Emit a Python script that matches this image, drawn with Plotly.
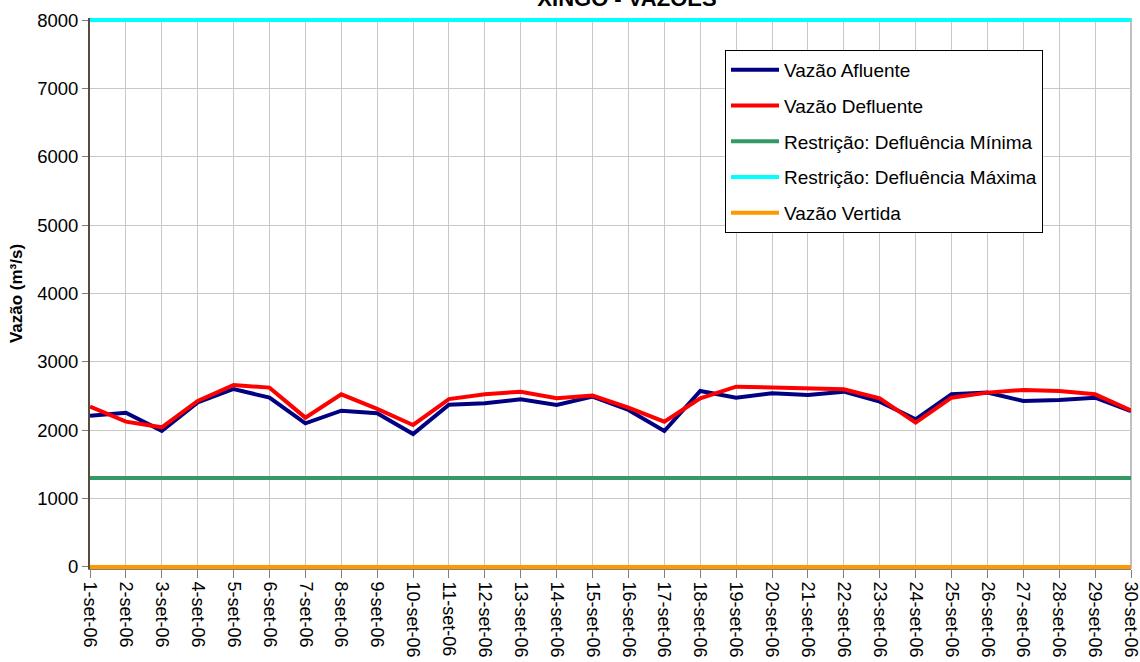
import plotly.graph_objects as go

days = [f"{d}-set-06" for d in range(1, 31)]
afluente = [2210, 2255, 1990, 2408, 2603, 2476, 2101, 2286, 2248, 1945,
            2372, 2394, 2452, 2369, 2491, 2296, 1989, 2574, 2476, 2540,
            2515, 2564, 2418, 2160, 2525, 2550, 2428, 2442, 2476, 2281]
defluente = [2345, 2125, 2043, 2428, 2662, 2623, 2184, 2525, 2311, 2077,
             2455, 2525, 2564, 2467, 2506, 2330, 2125, 2467, 2637, 2623,
             2613, 2599, 2467, 2111, 2476, 2550, 2589, 2574, 2525, 2290]
def_min = [1300] * 30
def_max = [8000] * 30
vertida = [0] * 30

names = ["Vazão Afluente", "Vazão Defluente", "Restrição: Defluência Mínima",
         "Restrição: Defluência Máxima", "Vazão Vertida"]
colors = ["#000080", "#FF0000", "#339966", "#00FFFF", "#FF9900"]
series = [afluente, defluente, def_min, def_max, vertida]

fig = go.Figure()
for i, (n, c, s) in enumerate(zip(names, colors, series)):
    fig.add_trace(go.Scatter(x=days, y=s, name=n, mode="lines",
                             line=dict(color=c, width=4), legendgroup=str(i),
                             cliponaxis=False))

W, H = 1140, 662
font = "Liberation Sans, Arial, sans-serif"
fig.update_layout(
    width=W, height=H,
    margin=dict(l=90, r=9, t=18, b=93),
    paper_bgcolor="white", plot_bgcolor="white",
    font=dict(family=font, size=18, color="black"),
    title=dict(text="<b>XINGÓ - VAZÕES</b>", x=627 / W, xanchor="center",
               y=1 - 6 / H, yref="container", yanchor="bottom",
               font=dict(size=22, family=font)),
    showlegend=True,
    legend=dict(x=(725 - 90) / 1041, y=(569 - 50) / 551, xanchor="left", yanchor="top",
                bgcolor="white", bordercolor="black", borderwidth=1,
                font=dict(size=19, family=font), tracegroupgap=8,
                itemwidth=48),
    xaxis=dict(type="category", tickangle=90, showgrid=True,
               gridcolor="#C8C8C8", gridwidth=1,
               showline=True, linecolor="#808080", linewidth=1,
               ticks="outside", ticklen=8, tickcolor="#808080",
               tickfont=dict(size=18), range=[0, 29], zeroline=False,
               automargin=False),
    yaxis=dict(range=[-30, 8030], tickvals=[0, 1000, 2000, 3000, 4000, 5000, 6000, 7000, 8000],
               showgrid=True, gridcolor="#C8C8C8", gridwidth=1,
               showline=True, linecolor="#5a4a3a", linewidth=2,
               ticks="outside", ticklen=6, tickcolor="#808080",
               tickfont=dict(size=18.5), zeroline=False, automargin=False,
               title=dict(text="<b>Vazão (m³/s)</b>", font=dict(size=17),
                          standoff=10)),
    shapes=[dict(type="line", xref="paper", yref="paper", x0=1, x1=1, y0=0, y1=1,
                 line=dict(color="#808080", width=1), layer="below")],
)
fig.write_html("out.html", config={"displayModeBar": False},
               post_script="document.body.style.margin='0';document.body.style.overflow='hidden';")
